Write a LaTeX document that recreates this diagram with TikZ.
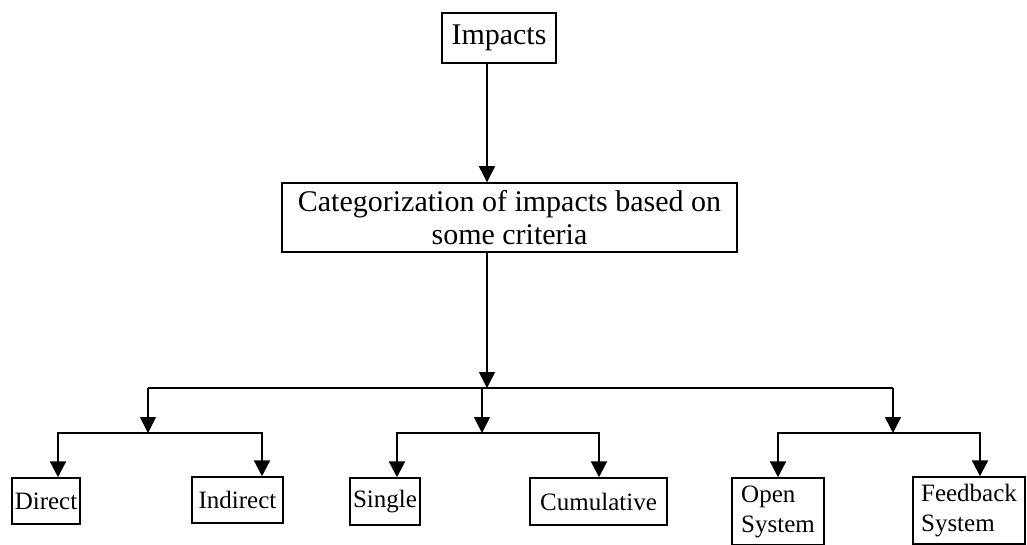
\documentclass[tikz,border=0pt]{standalone}
\usepackage{fontspec}
\setmainfont{Liberation Serif}
\usetikzlibrary{arrows.meta}
\begin{document}
\begin{tikzpicture}[x=1pt,y=-1pt,
  box/.style={draw,line width=1.5pt,inner sep=0pt,align=center},
  bigtext/.style={font=\fontsize{30}{33}\selectfont},
  smalltext/.style={font=\fontsize{25}{30}\selectfont,align=left},
  conn/.style={line width=1.5pt},
  sub/.style={line width=2.3pt},
  arr/.style={-{Triangle[width=16pt,length=16pt]}}]
\useasboundingbox (0,0) rectangle (1027,545);
% nodes
\node[box,bigtext,minimum width=114pt,minimum height=50pt] (imp) at (499,38) {Impacts};
\node[box,bigtext,minimum width=455pt,minimum height=69pt] (cat) at (509.5,217.5) {Categorization of impacts based on\\some criteria};
\node[box,smalltext,minimum width=68pt,minimum height=46pt] (direct) at (46,501) {Direct};
\node[box,smalltext,minimum width=91pt,minimum height=46pt] (indirect) at (237.5,500) {Indirect};
\node[box,smalltext,minimum width=70pt,minimum height=47pt] (single) at (385,501.5) {Single};
\node[box,smalltext,minimum width=137pt,minimum height=47pt] (cumul) at (598.5,501.5) {Cumulative};
\node[box,smalltext,minimum width=92pt,minimum height=67pt] (open) at (778,511.5) {Open\\System};
\node[box,smalltext,minimum width=112pt,minimum height=67pt] (feed) at (969,510.5) {Feedback\\System};
% coordinates
\coordinate (spine) at (487,0);
\coordinate (hub) at (487,388);
\coordinate (bl) at (148,388);
\coordinate (bm) at (482,388);
\coordinate (br) at (893,388);
\coordinate (jl) at (148,433);
\coordinate (jm) at (482,433);
\coordinate (jr) at (893,433);
\coordinate (xd) at (58,0);
\coordinate (xi) at (262,0);
\coordinate (xs) at (397,0);
\coordinate (xc) at (599,0);
\coordinate (xo) at (778,0);
\coordinate (xf) at (980,0);
% connectors
\draw[conn,arr] (imp.south -| spine) -- (cat.north -| spine);
\draw[conn,arr] (cat.south -| spine) -- (hub);
\draw[conn] (bl) -- (br);
\draw[conn,arr] (bl) -- (jl);
\draw[conn,arr] (bm) -- (jm);
\draw[conn,arr] (br) -- (jr);
\draw[sub,arr] (jl) -| (direct.north -| xd);
\draw[sub,arr] (jl) -| (indirect.north -| xi);
\draw[sub,arr] (jm) -| (single.north -| xs);
\draw[sub,arr] (jm) -| (cumul.north -| xc);
\draw[sub,arr] (jr) -| (open.north -| xo);
\draw[sub,arr] (jr) -| (feed.north -| xf);
\end{tikzpicture}
\end{document}
